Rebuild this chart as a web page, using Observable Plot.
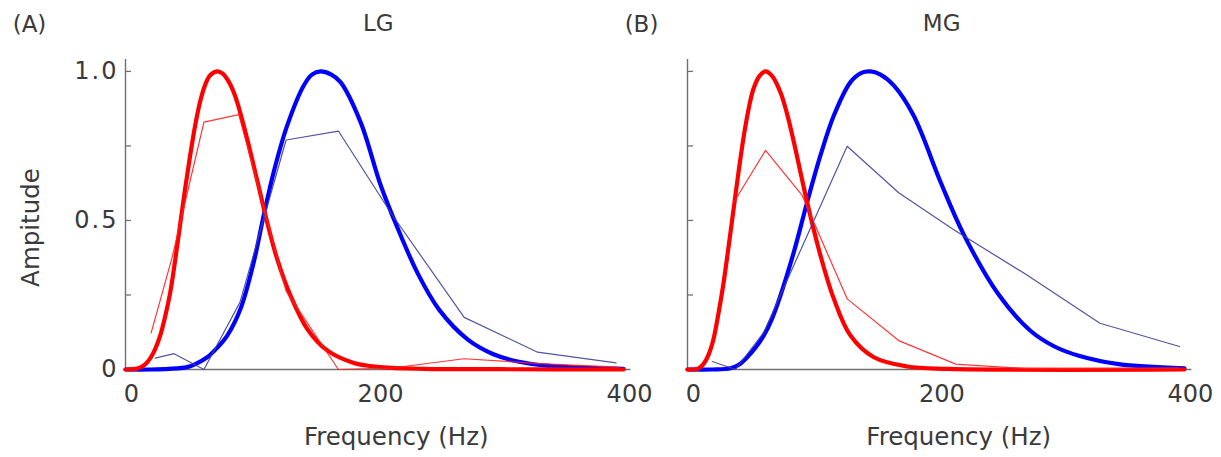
<!DOCTYPE html>
<html><head><meta charset="utf-8">
<script src="https://cdn.jsdelivr.net/npm/d3@7"></script>
<script src="https://cdn.jsdelivr.net/npm/@observablehq/plot@0.6"></script>
<style>
html,body{margin:0;padding:0;background:#fff;}
body{width:1221px;height:457px;overflow:hidden;position:relative;}
.panel{position:absolute;top:0;}
.ylab text{letter-spacing:2px;}
</style></head><body>
<div id="pa" class="panel" style="left:0px"></div>
<div id="pb" class="panel" style="left:610px"></div>
<script>
// ---------- text ----------
const panelTags = ["(A)", "(B)"];
const panelTitles = ["LG", "MG"];
const xLabel = "Frequency (Hz)";
const yLabel = "Ampitude";
const xTicks = [0, 200, 400];
const yTicks = [0, 0.25, 0.5, 0.75, 1.0];
const yTickLabelVals = [0, 0.5, 1.0];
const yTickLabels = ["0", "0.5", "1.0"];

// ---------- panel A (LG) ----------
// thick fitted curves
const aRedFitHz  = [0, 8, 12, 16, 20, 24, 28, 32, 36, 40, 44, 48, 52, 56, 60, 64, 68, 73.5, 78, 82, 86, 90, 97.7, 105.8, 113.8, 121.8, 132.5, 146, 162, 183.4, 205, 240, 300, 400];
const aRedFitAmp = [0, 0.002, 0.007, 0.018, 0.038, 0.07, 0.115, 0.18, 0.26, 0.37, 0.49, 0.61, 0.72, 0.82, 0.9, 0.955, 0.987, 1.0, 0.993, 0.972, 0.94, 0.893, 0.774, 0.634, 0.494, 0.371, 0.248, 0.136, 0.064, 0.022, 0.008, 0.002, 0.001, 0];
const aBlueFitHz  = [0, 20, 35, 49.5, 57, 65.6, 73, 81.7, 92.4, 103, 111, 119, 129.9, 143.2, 150, 156.6, 165, 172.7, 188.8, 204.8, 218, 235, 252, 275, 295, 316, 340, 365, 400];
const aBlueFitAmp = [0, 0, 0.002, 0.008, 0.02, 0.041, 0.07, 0.114, 0.204, 0.36, 0.517, 0.662, 0.819, 0.953, 0.99, 1.0, 0.99, 0.964, 0.83, 0.62, 0.48, 0.32, 0.2, 0.1, 0.052, 0.026, 0.012, 0.006, 0.002];
// thin measured lines
const aRedHz   = [20.6, 37.5, 63, 91, 129, 171, 214, 272, 332, 396];
const aRedAmp  = [0.123, 0.377, 0.83, 0.855, 0.263, 0, 0.005, 0.036, 0.02, 0.008];
const aBlueHz  = [24, 39, 63, 92, 129, 171, 214, 272, 331, 394];
const aBlueAmp = [0.038, 0.053, 0, 0.226, 0.77, 0.80, 0.52, 0.175, 0.058, 0.022];

// ---------- panel B (MG) ----------
const bRedFitHz  = [0, 5, 9, 13, 17, 21, 25, 29, 33, 37, 41, 45, 49, 53, 58, 62.8, 68, 74.8, 80, 85.6, 96.3, 107, 117.8, 131.2, 150, 176.8, 210, 400];
const bRedFitAmp = [0, 0, 0.004, 0.019, 0.05, 0.103, 0.19, 0.29, 0.41, 0.535, 0.66, 0.775, 0.87, 0.94, 0.985, 1.0, 0.985, 0.93, 0.86, 0.763, 0.561, 0.383, 0.237, 0.114, 0.041, 0.01, 0.002, 0];
const bBlueFitHz  = [0, 20, 34.6, 41, 48, 55, 61.4, 68, 74.8, 85.6, 96.3, 107, 117.8, 131.2, 140, 147.3, 155, 166, 182, 203.6, 222, 250, 276, 295, 315, 347, 400];
const bBlueFitAmp = [0, 0, 0.004, 0.015, 0.041, 0.075, 0.114, 0.17, 0.248, 0.394, 0.561, 0.718, 0.852, 0.964, 0.995, 1.0, 0.99, 0.953, 0.852, 0.63, 0.456, 0.254, 0.13, 0.078, 0.046, 0.018, 0.004];
const bRedHz   = [37.3, 62.8, 92.3, 128.5, 170, 216, 272, 332, 396];
const bRedAmp  = [0.561, 0.735, 0.584, 0.237, 0.097, 0.018, 0.003, 0.004, 0.005];
const bBlueHz  = [20, 38.6, 61.4, 92.3, 128.5, 170, 214, 272, 332, 396];
const bBlueAmp = [0.027, 0, 0.125, 0.412, 0.749, 0.593, 0.47, 0.32, 0.155, 0.077];

const zip = (xs, ys) => xs.map((x, i) => ({x, y: ys[i]}));
const FONT = "DejaVu Sans, Liberation Sans, sans-serif";
const AXIS = "#707070";
const TEXT = "#3a3a3a";

function panel(o) {
  const marks = [
    Plot.ruleY([0], {stroke: AXIS, strokeWidth: 1.4}),
    Plot.ruleX([0], {stroke: AXIS, strokeWidth: 1.4}),
    Plot.axisY({ticks: yTicks, tickSize: 6, dx: 6, tickFormat: () => "", label: null, stroke: AXIS, strokeWidth: 1.3}),
    Plot.axisX({ticks: xTicks, tickSize: 0, tickPadding: 15, dx: 6, label: null, fontSize: 24, fill: TEXT}),
    Plot.line(zip(o.blueFitHz, o.blueFitAmp), {x: "x", y: "y", stroke: "#0000ff", strokeWidth: 4.2, curve: "catmull-rom"}),
    Plot.line(zip(o.redFitHz, o.redFitAmp), {x: "x", y: "y", stroke: "#ff0000", strokeWidth: 4.2, curve: "catmull-rom"}),
    Plot.line(zip(o.blueHz, o.blueAmp), {x: "x", y: "y", stroke: "#40409a", strokeWidth: 1.2, strokeOpacity: 0.9}),
    Plot.line(zip(o.redHz, o.redAmp), {x: "x", y: "y", stroke: "#ff2020", strokeWidth: 1.2, strokeOpacity: 0.9}),
    Plot.text([o.tag], {frameAnchor: "top-left", dx: o.tagDx, dy: -44, fontSize: 23, fill: TEXT, textAnchor: "middle"}),
    Plot.text([o.title], {frameAnchor: "top", dx: o.titleDx, dy: -45, fontSize: 23, fill: TEXT, textAnchor: "middle"}),
    Plot.text([xLabel], {frameAnchor: "bottom", dx: o.xlabDx, dy: 75, fontSize: 24.5, fill: TEXT, textAnchor: "middle"})
  ];
  if (o.showY) {
    marks.push(Plot.axisY({ticks: yTickLabelVals, tickSize: 0, tickPadding: 7, label: null, tickFormat: (d) => yTickLabels[yTickLabelVals.indexOf(d)], fontSize: 24, fill: TEXT, className: "ylab"}));
    marks.push(Plot.text([yLabel], {frameAnchor: "left", rotate: -90, dx: -94, dy: 13, fontSize: 24.5, fill: TEXT, textAnchor: "middle"}));
  }
  return Plot.plot({
    width: o.width, height: 457,
    marginLeft: o.ml, marginRight: o.mr, marginTop: 59, marginBottom: 88,
    x: {domain: [0, 406]},
    y: {domain: [0, 1.04]},
    style: {background: "none", overflow: "visible", maxWidth: "none", fontFamily: FONT, color: TEXT},
    marks
  });
}

document.getElementById("pa").append(panel({
  width: 640, ml: 125, mr: 9.5, showY: true,
  tag: panelTags[0], title: panelTitles[0], tagDx: -96, titleDx: 0, xlabDx: 18,
  redFitHz: aRedFitHz, redFitAmp: aRedFitAmp, blueFitHz: aBlueFitHz, blueFitAmp: aBlueFitAmp,
  redHz: aRedHz, redAmp: aRedAmp, blueHz: aBlueHz, blueAmp: aBlueAmp
}));
document.getElementById("pb").append(panel({
  width: 611, ml: 77, mr: 29.6, showY: false,
  tag: panelTags[1], title: panelTitles[1], tagDx: -46, titleDx: 2, xlabDx: 19,
  redFitHz: bRedFitHz, redFitAmp: bRedFitAmp, blueFitHz: bBlueFitHz, blueFitAmp: bBlueFitAmp,
  redHz: bRedHz, redAmp: bRedAmp, blueHz: bBlueHz, blueAmp: bBlueAmp
}));
</script>
</body></html>
